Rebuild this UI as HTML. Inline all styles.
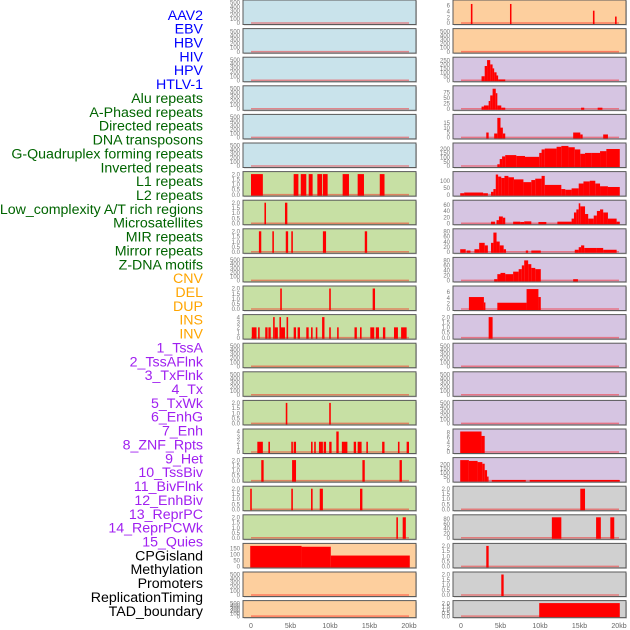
<!DOCTYPE html>
<html><head><meta charset="utf-8"><style>
body{margin:0;background:#fff;width:630px;height:630px;overflow:hidden}
svg{display:block;font-family:"Liberation Sans",sans-serif}
</style></head><body>
<svg id="c" width="630" height="630"></svg>
<script>
const trackLabels=["AAV2","EBV","HBV","HIV","HPV","HTLV-1","Alu repeats","A-Phased repeats","Directed repeats","DNA transposons","G-Quadruplex forming repeats","Inverted repeats","L1 repeats","L2 repeats","Low_complexity A/T rich regions","Microsatellites","MIR repeats","Mirror repeats","Z-DNA motifs","CNV","DEL","DUP","INS","INV","1_TssA","2_TssAFlnk","3_TxFlnk","4_Tx","5_TxWk","6_EnhG","7_Enh","8_ZNF_Rpts","9_Het","10_TssBiv","11_BivFlnk","12_EnhBiv","13_ReprPC","14_ReprPCWk","15_Quies","CPGisland","Methylation","Promoters","ReplicationTiming","TAD_boundary"];
const labelColors=["#0000ff","#006400","#ffa500","#a020f0","#000000"];
const labelGroupCounts=[6,13,5,15,5];
const xTickValues=[0,5,10,15,20];
const xTickLabels=["0","5kb","10kb","15kb","20kb"];
const leftMax=[500,500,500,500,500,500,2,2,2,500,2,4,500,500,2,4,2,2,2,170,500,500];
const leftBg=["b","b","b","b","b","b","g","g","g","g","g","g","g","g","g","g","g","g","g","o","o","o"];
const leftSegs=[[],[],[],[],[],[],
[[0,1.5,2],[5.4,6.0,2],[6.3,7.0,2],[7.3,7.8,2],[8.4,9.0,2],[9.1,9.7,2],[11.6,12.4,2],[13.5,14.3,2],[16.3,16.9,2]],
[[1.7,1.9,2],[4.3,4.6,2]],
[[1.0,1.3,2],[2.7,2.9,2],[4.4,4.7,2],[5.1,5.3,2],[9.1,9.5,2],[14.4,14.7,2]],
[],
[[3.7,3.9,2],[9.9,10.1,2],[15.4,15.7,2]],
[[0.1,0.7,2],[0.9,1.1,2],[1.8,2.1,2],[2.2,2.5,2],[2.8,3.0,4],[3.0,3.4,2],[3.6,3.8,4],[3.8,4.3,2],[4.5,4.7,4],[5.4,5.7,2],[5.9,6.2,2],[7.0,7.3,2],[7.6,7.8,2],[8.2,8.4,2],[9.0,9.3,4],[9.9,10.1,2],[10.9,11.1,2],[13.1,13.4,2],[13.8,14.0,2],[15.1,15.6,2],[15.8,16.2,2],[16.7,17.0,2],[18.1,18.6,2],[19.0,19.7,2]],
[],[],
[[4.4,4.6,2],[9.9,10.1,2]],
[[0.8,1.5,2],[2.2,2.4,2],[5.1,5.3,2],[5.4,5.7,2],[7.6,7.8,2],[8.0,8.2,2],[8.6,9.1,2],[9.2,9.5,2],[9.9,10.2,2],[10.8,11.1,4],[11.5,12.2,2],[13.0,13.3,2],[13.5,14.0,2],[14.6,14.8,2],[16.6,16.9,2],[18.6,18.8,2],[19.7,20.0,2]],
[[1.3,1.6,2],[5.2,5.7,2],[14.1,14.4,2],[18.8,19.1,2]],
[[-0.1,0.1,2],[5.1,5.3,2],[7.6,7.8,2],[8.7,9.1,2],[13.8,14.1,2]],
[[18.4,18.6,2],[19.2,19.6,2]],
[[-0.1,6.4,170],[6.4,10.1,163],[10.1,20.1,90]],
[],[]];
const rightMax=[7,500,260,92,21,235,148,67,80,82,7.2,2,500,500,500,8.3,255,2,87,2,2,2];
const rightBg=["o","o","p","p","p","p","p","p","p","p","p","p","p","p","p","p","p","y","y","y","y","y"];
const rightSegs=[
[[1.25,1.45,6.5],[6.2,6.35,6.5],[16.7,16.9,4.2],[19.5,19.7,2.2]],
[],
[[2.6,3.0,50],[3.0,3.3,180],[3.3,3.7,255],[3.7,4.0,200],[4.0,4.2,150],[4.2,4.5,100],[4.5,4.7,60],[4.7,5.6,10]],
[[2.6,2.9,10],[2.9,3.5,15],[3.5,3.7,35],[3.7,4.0,60],[4.0,4.4,90],[4.4,4.6,70],[4.6,5.1,15],[5.1,5.6,5],[15.2,15.6,5],[17.3,17.9,5]],
[[3.2,3.5,5],[4.2,4.6,4],[4.6,5.0,20],[5.0,5.3,10],[5.3,5.6,4],[14.2,15.1,5],[15.1,15.4,3],[18.0,18.6,3]],
[[4.6,4.9,20],[4.9,5.2,80],[5.2,5.6,110],[5.6,7.0,125],[7.0,8.1,115],[8.1,9.9,105],[9.9,10.2,150],[10.2,10.6,190],[10.6,12.1,200],[12.1,12.7,220],[12.7,13.6,230],[13.6,14.4,215],[14.4,15.1,190],[15.1,15.7,140],[15.7,16.5,150],[16.5,17.6,150],[17.6,18.4,170],[18.4,20.1,195]],
[[-0.1,0.4,10],[0.4,2.8,15],[2.8,3.4,10],[3.8,4.1,20],[4.1,4.4,40],[4.4,4.7,145],[4.7,5.1,130],[5.1,5.5,120],[5.5,6.0,135],[6.0,6.7,125],[6.7,7.9,110],[7.9,8.9,90],[8.9,9.4,105],[9.4,10.2,115],[10.2,10.6,135],[10.6,12.7,70],[12.7,13.2,40],[13.2,14.0,35],[14.0,14.9,45],[14.9,15.5,80],[15.5,16.3,95],[16.3,17.0,100],[17.0,17.6,80],[17.6,18.6,60],[18.6,20.1,55]],
[[3.8,4.3,5],[4.5,4.8,10],[4.8,5.3,22],[5.3,5.6,18],[6.6,7.5,5],[7.5,8.0,4],[8.0,8.9,6],[9.8,10.8,4],[12.2,14.0,5],[14.0,14.3,15],[14.3,14.6,35],[14.6,14.9,45],[14.9,15.1,65],[15.1,15.7,55],[15.7,16.1,30],[16.1,16.8,15],[16.8,17.2,25],[17.2,17.6,40],[17.6,18.0,45],[18.0,18.6,35],[18.6,19.7,15],[19.7,20.1,5]],
[[-0.1,0.6,10],[0.7,1.2,5],[1.7,2.3,10],[2.3,3.0,35],[3.0,3.4,25],[3.8,4.1,35],[4.1,4.5,75],[4.5,4.9,40],[4.9,5.4,25],[5.4,5.7,10],[8.2,8.5,5],[8.9,10.1,5],[14.4,14.9,8],[14.9,15.2,18],[15.2,15.6,25],[15.6,17.2,15],[17.2,18.0,15],[18.0,19.7,8]],
[[4.2,4.6,5],[4.6,5.0,25],[5.0,5.6,30],[5.6,6.6,25],[6.6,7.3,35],[7.3,7.7,45],[7.7,8.0,60],[8.0,8.5,80],[8.5,8.9,65],[8.9,9.4,50],[9.4,10.1,45],[14.2,14.8,5]],
[[1.0,2.9,4.2],[2.9,3.0,2.3],[4.6,8.3,2.2],[8.3,9.8,7],[9.8,10.1,4.2]],
[[3.5,4.0,2]],
[],[],[],
[[-0.1,2.6,8.3],[2.6,3.0,6.5]],
[[-0.1,1.0,255],[1.0,2.1,245],[2.1,2.7,230],[2.7,3.0,210],[3.0,3.3,130],[3.3,3.4,50],[3.9,8.2,8],[8.7,20.1,8]],
[[15.1,15.7,2]],
[[11.5,12.7,87],[17.1,17.7,87],[18.9,19.4,87]],
[[3.2,3.5,2]],
[[5.1,5.4,2]],
[[9.9,20.1,2]]];
const bgColors={b:"#c9e3eb",g:"#c7e0a4",o:"#fdcf9e",p:"#d6c5e2",y:"#d0d0d0"};
const NS="http://www.w3.org/2000/svg";
const svg=document.getElementById("c");
function mk(tag,attrs,parent){const e=document.createElementNS(NS,tag);for(const k in attrs)e.setAttribute(k,attrs[k]);(parent||svg).appendChild(e);return e;}
function rowTop(i){return i*28.6;}
function rowH(i){return i===21?17:24.5;}
function xScale(kb,x0){return x0+8+(kb)*7.9;}
function yScale(v,max,top,h){return top+h-1.5-(v/max)*(h-4);}
function ticksFor(max){
  if(max===500)return[[0,"0"],[100,"100"],[200,"200"],[300,"300"],[400,"400"],[500,"500"]];
  if(max===2)return[[0,"0.0"],[0.5,"0.5"],[1,"1.0"],[1.5,"1.5"],[2,"2.0"]];
  const map={4:[0,1,2,3,4],170:[0,50,100,150],7:[0,2,4,6],260:[0,50,100,150,200,250],92:[0,25,50,75],21:[0,5,10,15],235:[0,50,100,150,200],148:[0,50,100],67:[0,20,40,60],80:[0,20,40,60,80],82:[0,20,40,60,80],7.2:[0,2,4,6],8.3:[0,2,4,6,8],255:[0,50,100,150,200],87:[0,20,40,60,80]};
  return (map[max]||[0]).map(v=>[v,String(v)]);
}
function drawPanel(x0,i,max,bg,segs,side){
  const top=rowTop(i),h=rowH(i);
  const g=mk("g",{});
  
  
  mk("rect",{x:x0+1,y:top+1,width:173,height:h,fill:"#aaa",opacity:0.6},g);
  mk("rect",{x:x0,y:top,width:173,height:h,fill:bgColors[bg],stroke:"#5a5a5a","stroke-width":1},g);
  segs.forEach(s=>{
    const x1=xScale(s[0],x0),x2=xScale(s[1],x0),y=yScale(s[2],max,top,h);
    const r=mk("rect",{x:x1,y:Math.max(top+0.5,y),width:Math.max(1.5,x2-x1),height:top+h-0.5-Math.max(top+0.5,y),fill:"#ff0000"},g);
    
    
  });
  mk("line",{x1:xScale(0,x0),x2:xScale(20,x0),y1:top+h-1.5,y2:top+h-1.5,stroke:"#ff0000","stroke-width":1.5,opacity:0.4},g);
  ticksFor(max).forEach(t=>{
    const y=yScale(t[0],max,top,h);
    const tx=mk("text",{x:x0-3,y:y+2.2,"text-anchor":"end","font-size":6,fill:"#777"},g);
    tx.textContent=t[1];
  });
}
for(let i=0;i<22;i++){drawPanel(243,i,leftMax[i],leftBg[i],leftSegs[i],'left');drawPanel(453,i,rightMax[i],rightBg[i],rightSegs[i],'right');}
[243,453].forEach((x0,ci)=>{
  xTickValues.forEach((v,k)=>{
    const t=mk("text",{x:xScale(v,x0),y:628,"text-anchor":"middle","font-size":7,fill:"#666"});
    
    
    t.textContent=xTickLabels[k];
  });
});
let idx=0;
labelGroupCounts.forEach((n,gi)=>{
  for(let k=0;k<n;k++){
    const t=mk("text",{x:203,y:15+13.86*idx+4.8,"text-anchor":"end","font-size":14.2,fill:labelColors[gi]});
    
    
    t.textContent=trackLabels[idx];idx++;
  }
});
</script>
</body></html>
